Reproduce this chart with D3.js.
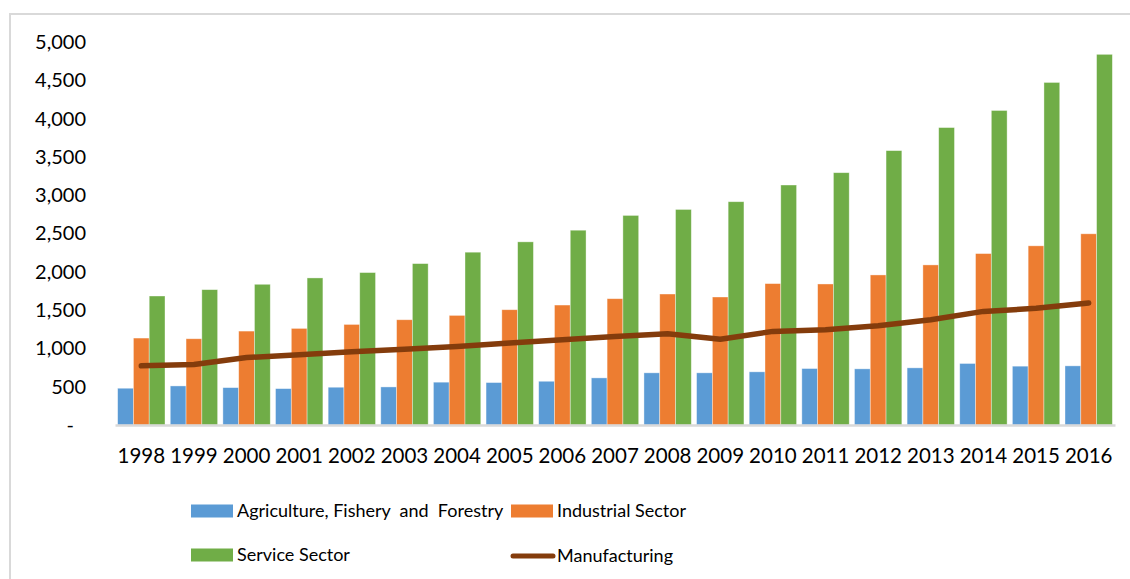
<!DOCTYPE html>
<html>
<head>
<meta charset="utf-8">
<script src="https://cdn.jsdelivr.net/npm/d3@7/dist/d3.min.js"></script>
<style>
  html, body { margin: 0; padding: 0; background: #fff; }
  svg { display: block; }
  text { font-family: Lato, "Open Sans", sans-serif; fill: #000; }
</style>
</head>
<body>
<svg id="chart" width="1130" height="579"></svg>
<script>
const years = ["1998","1999","2000","2001","2002","2003","2004","2005","2006","2007","2008","2009","2010","2011","2012","2013","2014","2015","2016"];
const agriculture = [480, 510, 488, 475, 493, 497, 559, 554, 571, 615, 681, 681, 694, 737, 733, 746, 803, 768, 772];
const industrial = [1135, 1126, 1226, 1261, 1313, 1374, 1431, 1505, 1566, 1649, 1710, 1671, 1846, 1841, 1959, 2090, 2238, 2339, 2496];
const service = [1684, 1767, 1837, 1920, 1990, 2107, 2256, 2391, 2543, 2736, 2814, 2915, 3133, 3294, 3582, 3883, 4106, 4472, 4839];
const manufacturing = [772, 789, 881, 916, 955, 990, 1025, 1069, 1113, 1156, 1191, 1120, 1222, 1243, 1296, 1374, 1483, 1523, 1593];
const yTicks = [0, 500, 1000, 1500, 2000, 2500, 3000, 3500, 4000, 4500, 5000];
const barSeries = [
  {name: "Agriculture, Fishery\u00a0 and\u00a0 Forestry", values: agriculture, color: "#5B9BD5"},
  {name: "Industrial Sector", values: industrial, color: "#ED7D31"},
  {name: "Service Sector", values: service, color: "#70AD47"}
];
const lineSeries = {name: "Manufacturing", values: manufacturing, color: "#843C0C"};

const svg = d3.select("#chart");

// outer frame
svg.append("rect").attr("x", 10).attr("y", 14).attr("width", 1200).attr("height", 700)
  .attr("fill", "none").attr("stroke", "#D9D9D9").attr("stroke-width", 2);

const x0 = d3.scaleBand().domain(years).range([115, 1115]).paddingInner(0.1).paddingOuter(0.05);
const x1 = d3.scaleBand().domain(barSeries.map((d, i) => i)).range([0, x0.bandwidth()]);
const y = d3.scaleLinear().domain([0, 5000]).range([425, 42]);

// y axis labels
const yAxis = d3.axisLeft(y).tickValues(yTicks).tickSize(0).tickPadding(0)
  .tickFormat(d => d === 0 ? "-" : d3.format(",")(d));
const ya = svg.append("g").attr("transform", "translate(86,0)").call(yAxis);
ya.select(".domain").remove();
ya.selectAll("text").style("font-size", "20px").style("font-family", "Lato, sans-serif").attr("fill", "#000").attr("dy", "0.32em");
ya.selectAll(".tick").filter(d => d === 0).select("text").attr("dx", "-12");

// bars
barSeries.forEach((s, si) => {
  svg.append("g").selectAll("rect").data(s.values).join("rect")
    .attr("x", (d, i) => x0(years[i]) + x1(si))
    .attr("y", d => y(d))
    .attr("width", x1.bandwidth())
    .attr("height", d => y(0) - y(d))
    .attr("fill", s.color)
    .attr("stroke", "#ffffff").attr("stroke-opacity", 0.5).attr("stroke-width", 0.75);
});

// x axis
const xAxis = d3.axisBottom(x0).tickSize(0).tickPadding(23);
const xa = svg.append("g").attr("transform", `translate(0,${y(0)})`).call(xAxis);
xa.select(".domain").attr("stroke", "#D9D9D9").attr("stroke-width", 2.5);
xa.selectAll("text").style("font-size", "20.5px").style("font-family", "Lato, sans-serif").attr("fill", "#000");

// line
const line = d3.line().x((d, i) => x0(years[i]) + x0.bandwidth() / 2).y(d => y(d));
svg.append("path").datum(lineSeries.values).attr("d", line)
  .attr("fill", "none").attr("stroke", lineSeries.color).attr("stroke-width", 5.5)
  .attr("stroke-linecap", "round").attr("stroke-linejoin", "round");

// legend
const legendItems = [
  {type: "rect", s: barSeries[0], x: 191, y: 511},
  {type: "rect", s: barSeries[1], x: 511, y: 511},
  {type: "rect", s: barSeries[2], x: 191, y: 555},
  {type: "line", s: lineSeries, x: 511, y: 556}
];
const lg = svg.append("g");
legendItems.forEach(it => {
  if (it.type === "rect") {
    lg.append("rect").attr("x", it.x).attr("y", it.y - 6.5).attr("width", 42).attr("height", 13).attr("fill", it.s.color);
  } else {
    lg.append("line").attr("x1", it.x + 2).attr("x2", it.x + 42).attr("y1", it.y).attr("y2", it.y)
      .attr("stroke", it.s.color).attr("stroke-width", 5).attr("stroke-linecap", "round");
  }
  lg.append("text").attr("x", it.x + 46).attr("y", it.y).attr("dy", "0.35em")
    .style("font-size", "18px").text(it.s.name);
});
</script>
</body>
</html>
